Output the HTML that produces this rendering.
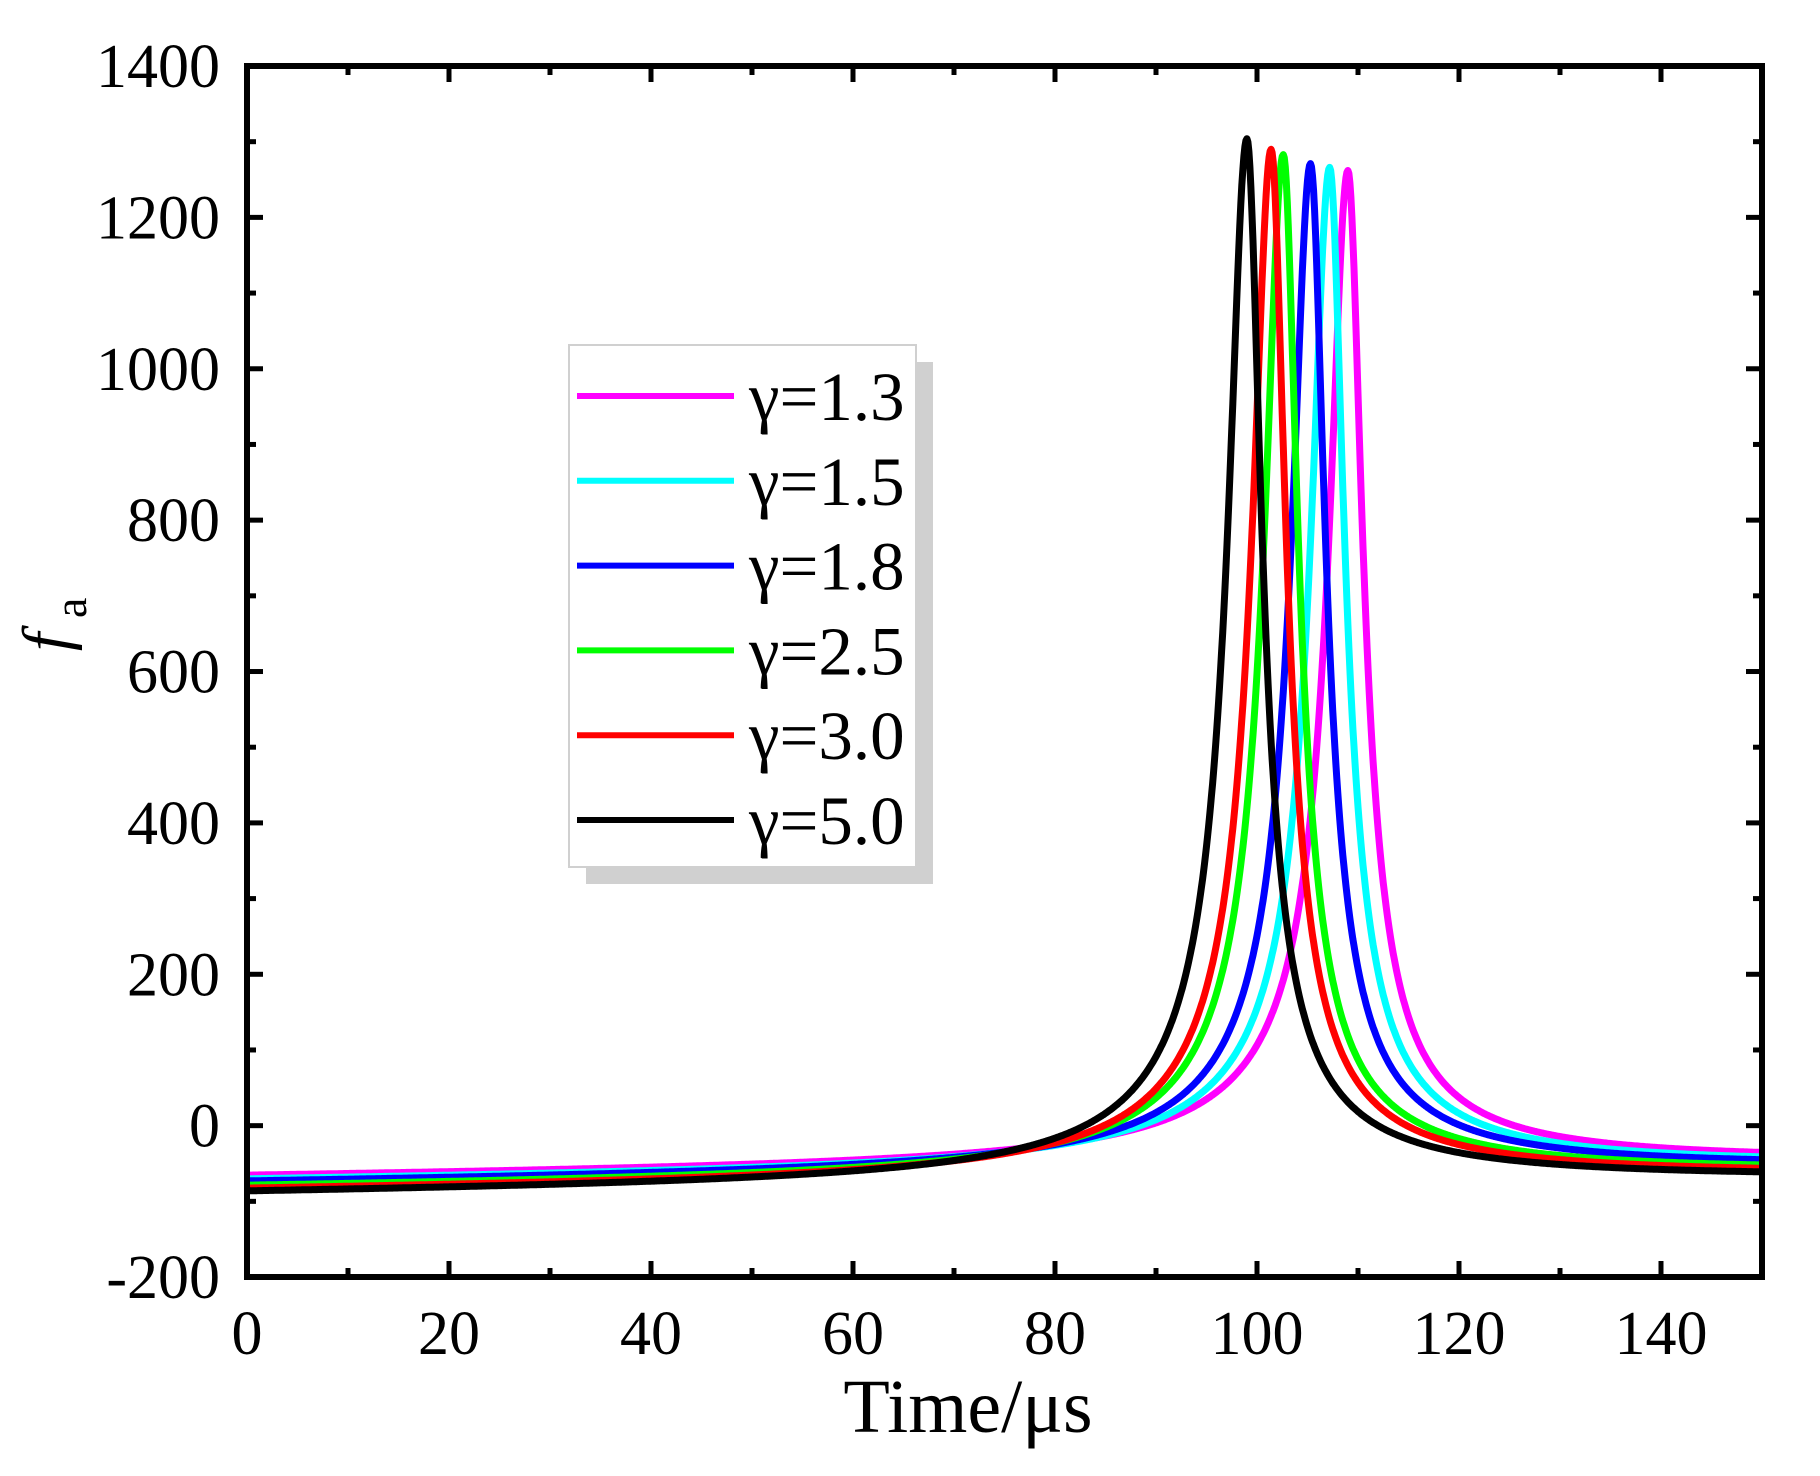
<!DOCTYPE html>
<html><head><meta charset="utf-8"><style>
html,body{margin:0;padding:0;background:#fff}
svg{display:block}
text{font-family:"Liberation Serif","DejaVu Serif",serif;fill:#000}
</style></head><body>
<svg id="s" width="1820" height="1476" viewBox="0 0 1820 1476" xmlns="http://www.w3.org/2000/svg">
<defs><clipPath id="c"><rect x="247" y="66" width="1515" height="1211"/></clipPath></defs>
<g id="curves" clip-path="url(#c)"></g>
<g id="axes" stroke="#000" stroke-width="6" fill="none">
<rect x="247" y="66" width="1515" height="1211"/>
</g>
<g id="ticks" stroke="#000" stroke-width="5"></g>
<g id="labels" font-size="62"></g>
<text x="968" y="1432" font-size="76" text-anchor="middle">Time/μs</text>
<g transform="translate(68,642) rotate(-90)">
<text x="0" y="0" font-size="66" font-style="italic" text-anchor="middle">f</text>
<text x="24" y="18" font-size="46">a</text>
</g>
<rect x="586" y="362" width="347" height="522" fill="#d0d0d0"/>
<rect x="569" y="345" width="347" height="522" fill="#fff" stroke="#d0d0d0" stroke-width="2"/>
<g id="leg"></g>
</svg>
<script>
var X=function(t){return 247+t*10.1;};
var Y=function(v){return 66+(1400-v)*0.7569;};
var NS="http://www.w3.org/2000/svg";
function el(tag,attrs,parent,txt){var e=document.createElementNS(NS,tag);for(var k in attrs)e.setAttribute(k,attrs[k]);if(txt!==undefined)e.textContent=txt;parent.appendChild(e);return e;}
var tk=document.getElementById('ticks'),lb=document.getElementById('labels');
for(var t=0;t<=150;t+=10){var x=X(t),L=(t%20==0)?16:9;
 el('line',{x1:x,y1:1277,x2:x,y2:1277-L},tk);el('line',{x1:x,y1:66,x2:x,y2:66+L},tk);
 if(t%20==0)el('text',{x:x,y:1354,'text-anchor':'middle'},lb,String(t));}
for(var v=-200;v<=1400;v+=100){var y=Y(v),L=(v%200==0)?16:9;
 el('line',{x1:247,y1:y,x2:247+L,y2:y},tk);el('line',{x1:1762,y1:y,x2:1762-L,y2:y},tk);
 if(v%200==0)el('text',{x:220,y:y+21,'text-anchor':'end'},lb,String(v));}
var cs=[
 ['#ff00ff',109.0,1262,-72],
 ['#00ffff',107.2,1266,-77],
 ['#0000ff',105.3,1271,-80],
 ['#00ff00',102.6,1283,-86],
 ['#ff0000',101.4,1290,-90],
 ['#000000',99.0,1304,-94]];
var g=document.getElementById('curves');
cs.forEach(function(c){var t0=c[1],pk=c[2],b0=c[3],s=0.13;
 var A=pk-(b0+s*t0);var d='';
 for(var t=0;t<=150.01;t+=0.1){var dd=t-t0;var w=dd<0?1.86:1.45;
  var v=b0+s*t+A/Math.pow(1+(dd/w)*(dd/w),0.65);
  d+=(t==0?'M':'L')+X(t).toFixed(1)+' '+Y(v).toFixed(1);}
 el('path',{d:d,stroke:c[0],'stroke-width':7,fill:'none','stroke-linejoin':'round'},g);});
var lg=document.getElementById('leg');
var names=['γ=1.3','γ=1.5','γ=1.8','γ=2.5','γ=3.0','γ=5.0'];
for(var i=0;i<6;i++){var y=396+i*84.8;
 el('line',{x1:577,y1:y,x2:734,y2:y,stroke:cs[i][0],'stroke-width':6},lg);
 el('text',{x:749,y:y+24,'font-size':69},lg,names[i]);}
</script>
</body></html>
